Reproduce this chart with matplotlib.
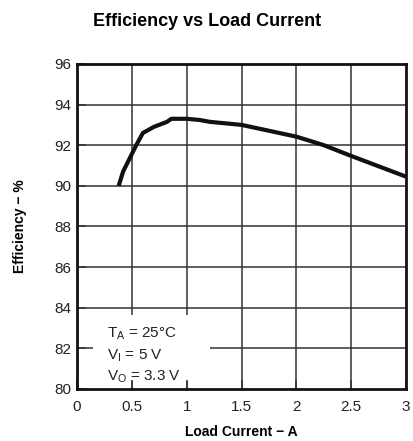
'''
Efficiency vs load current curve (TA = 25C, VI = 5 V, VO = 3.3 V).
'''
import matplotlib
matplotlib.use('Agg')
import matplotlib.pyplot as plt
from matplotlib.patches import Rectangle

matplotlib.rcParams['font.family'] = 'Liberation Sans'
matplotlib.rcParams['mathtext.fontset'] = 'custom'
matplotlib.rcParams['mathtext.rm'] = 'Liberation Sans'

# -- Data --
loadCurrent = [0.38, 0.42, 0.48, 0.54, 0.60, 0.70, 0.82, 0.86, 1.00, 1.12,
               1.21, 1.50, 2.00, 2.25, 2.50, 3.00]
efficiency = [90.0, 90.7, 91.35, 92.0, 92.6, 92.9, 93.15, 93.3, 93.3, 93.24,
              93.15, 93.0, 92.42, 92.0, 91.47, 90.45]
xTicks = [0, 0.5, 1, 1.5, 2, 2.5, 3]
xTickLabels = ['0', '0.5', '1', '1.5', '2', '2.5', '3']
yTicks = [80, 82, 84, 86, 88, 90, 92, 94, 96]
conditions = [r'T$_\mathregular{A}$ = 25°C',
              r'V$_\mathregular{I}$ = 5 V',
              r'V$_\mathregular{O}$ = 3.3 V']

fontSizeLabels = 10
fontSizeTicks = 11
fontSizeTitle = 13
gridColor = '#333333'

fig = plt.figure(figsize=(4.14, 4.41), dpi=100)
ax = fig.add_axes([0.186, 0.118, 0.795, 0.737])

# grid drawn by hand so the legend box can hide part of it
for xv in xTicks[1:-1]:
    ax.axvline(xv, color=gridColor, lw=1.1, zorder=1)
for yv in yTicks[1:-1]:
    ax.axhline(yv, color=gridColor, lw=1.1, zorder=1)

ax.add_patch(Rectangle((0.146, 80.39), 1.067, 3.25, facecolor='white',
                       edgecolor='none', zorder=1.5))

ax.plot(loadCurrent, efficiency, color='#111111', lw=3, zorder=3,
        solid_capstyle='butt', solid_joinstyle='round')

for ind, txt in enumerate(conditions):
    ax.text(0.27, 82.7 - ind * 1.05, txt, fontsize=11, va='center',
            ha='left', color='#222222', zorder=4)

ax.set_xlim(0, 3)
ax.set_ylim(80, 96)
ax.set_xticks(xTicks)
ax.set_xticklabels(xTickLabels)
ax.set_yticks(yTicks)
ax.tick_params(direction='in', length=6.5, width=1.1, color=gridColor,
               labelsize=fontSizeTicks, labelcolor='#222222', pad=4)
ax.tick_params(axis='x', pad=8)
for spine in ax.spines.values():
    spine.set_linewidth(2)
    spine.set_color('#111111')

ax.set_xlabel('Load Current − A', fontsize=fontSizeLabels, fontweight='bold',
              labelpad=8)
ax.set_ylabel('Efficiency − %', fontsize=fontSizeLabels, fontweight='bold',
              labelpad=20)
fig.text(0.5, 0.952, 'Efficiency vs Load Current', fontsize=fontSizeTitle,
         fontweight='bold', ha='center', va='center')

fig.savefig('out.png', dpi=100)
